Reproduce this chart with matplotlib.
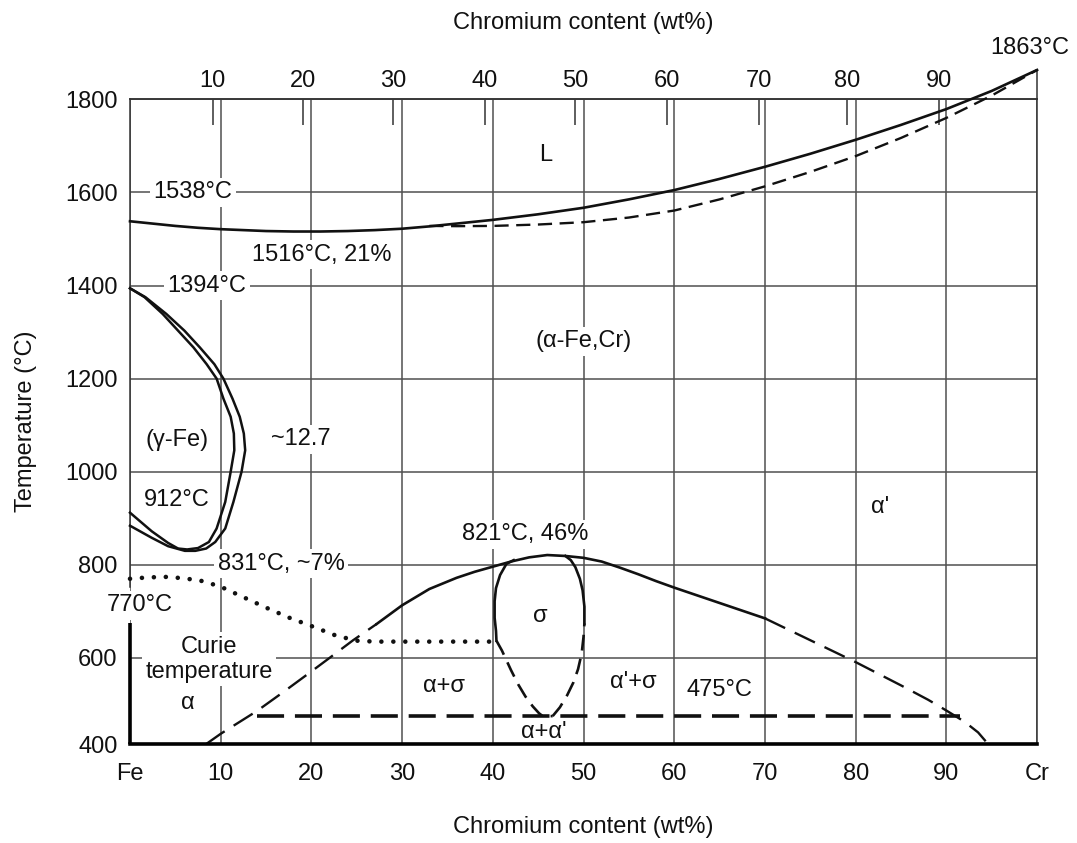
import matplotlib
matplotlib.use('Agg')
import matplotlib.pyplot as plt

plt.rcParams['font.family'] = ['Liberation Sans', 'DejaVu Sans']
plt.rcParams['font.size'] = 17
plt.rcParams['text.color'] = '#1a1a1a'

# Fe-Cr phase diagram: composition in wt% Cr, temperature in deg C

# liquidus (solid) and solidus (dashed)
liq_cr = [0, 2.5, 5, 7.5, 10, 12.5, 15, 18, 21, 24, 27, 30, 33, 36, 40, 45, 50, 55, 60, 65,
          70, 75, 80, 85, 90, 95, 100]
liq_t = [1538, 1533, 1528, 1524, 1521, 1519, 1517, 1516, 1516, 1517, 1519, 1522, 1527, 1533,
         1541, 1553, 1567, 1585, 1605, 1629, 1655, 1683, 1713, 1745, 1779, 1818, 1863]
sol_cr = [33, 36, 40, 45, 50, 55, 60, 65, 70, 75, 80, 85, 90, 95, 100]
sol_t = [1528, 1527.5, 1528, 1531, 1536, 1546, 1561, 1585, 1613, 1644, 1678, 1717, 1760, 1808, 1863]

# gamma loop: inner boundary ends at 912 C, outer boundary just outside it
gam_in_cr = [0, 1.6, 3.6, 5.3, 7.0, 8.45, 9.55, 10.3, 11.1, 11.45, 11.5, 11.1, 10.5, 9.55,
             8.7, 7.5, 6.3, 5.3, 4.2, 2.4, 0]
gam_in_t = [1394, 1375, 1339, 1303, 1267, 1231, 1200, 1157, 1118, 1082, 1046, 1000, 935, 878,
            849, 836, 833, 835, 847, 872, 912]
gam_out_cr = [0, 1.7, 4.0, 6.0, 7.7, 9.3, 10.3, 11.3, 12.1, 12.55, 12.7, 12.3, 11.4, 10.5,
              9.4, 8.4, 7.2, 6.05, 4.2, 2.4, 0]
gam_out_t = [1394, 1375, 1339, 1303, 1267, 1231, 1200, 1157, 1118, 1082, 1046, 1000, 935, 878,
             849, 835, 830, 830, 840, 858, 884]

# Curie temperature
curie_cr = [0, 2, 4, 6, 8, 10, 12, 15, 17.6, 20.2, 22.7, 25, 27, 40]
curie_t = [770, 773, 774, 771, 765, 753, 735, 708, 686, 667, 648, 637, 635, 635]

# alpha / (alpha + sigma) boundary: dashed left end, solid dome, dashed right end
a_lo_cr = [8.4, 10, 14, 17, 20, 22, 24.6, 27.2]
a_lo_t = [415, 437, 486, 528, 571, 600, 638, 673]
a_dome_cr = [27.2, 30, 33, 36, 38, 40, 42, 44, 46, 48, 50, 52, 54, 56, 58, 60, 65, 70]
a_dome_t = [673, 713, 748, 772, 785, 796, 807, 816, 821, 819, 815, 807, 794, 780, 765, 751, 718, 685]
a_hi_cr = [70, 75, 80, 85, 88, 90, 92, 93.5, 94.6]
a_hi_t = [685, 638, 591, 541, 510, 487, 463, 440, 415]

# sigma phase field
sig_l_cr = [42.3, 41.5, 40.8, 40.35, 40.2, 40.2, 40.35, 40.4]
sig_l_t = [810, 802, 778, 750, 722, 686, 658, 637]
sig_ld_cr = [40.4, 41.0, 42.0, 42.8, 43.6, 44.4, 45.1, 45.5, 46.6]
sig_ld_t = [637, 616, 574, 543, 517, 496, 481, 475, 475]
sig_rd_cr = [46.6, 47.4, 48.2, 48.9, 49.4, 49.8, 50.0, 50.1]
sig_rd_t = [475, 494, 520, 548, 576, 610, 645, 674]
sig_r_cr = [50.1, 50.1, 49.9, 49.6, 49.1, 48.6, 48.0]
sig_r_t = [674, 710, 745, 770, 795, 810, 819]

# 475 C embrittlement line
emb_cr = [14, 91.5]
emb_t = [475, 475]

# Fe-side edge: thin above the Curie point, heavy through the alpha field
fe_thin = [752, 1800]
fe_thick = [415, 674]

bottom_ticks = [0, 10, 20, 30, 40, 50, 60, 70, 80, 90, 100]
bottom_labels = ['Fe', '10', '20', '30', '40', '50', '60', '70', '80', '90', 'Cr']
top_ticks = [9.1, 19.1, 29.0, 39.1, 49.1, 59.2, 69.3, 79.1, 89.2]
top_labels = ['10', '20', '30', '40', '50', '60', '70', '80', '90']
temp_ticks = [415, 600, 800, 1000, 1200, 1400, 1600, 1800]
temp_labels = ['400', '600', '800', '1000', '1200', '1400', '1600', '1800']

INK = '#111111'
GRID = '#505050'

fig = plt.figure(figsize=(10.77, 8.43), dpi=100)
ax = fig.add_axes([0.1207, 0.1174, 0.8422, 0.7648])
ax.set_xlim(0, 100)
ax.set_ylim(415, 1800)

ax.set_xticks(bottom_ticks, bottom_labels)
ax.set_yticks(temp_ticks, temp_labels)
ax.tick_params(axis='x', length=0, pad=14, labelcolor=INK)
ax.tick_params(axis='y', length=0, pad=9, labelcolor=INK)
ax.set_axisbelow(True)
ax.grid(True, color=GRID, lw=1.1)

for side in ['top', 'right']:
    ax.spines[side].set_color('#333333')
    ax.spines[side].set_linewidth(1.1)
ax.spines['left'].set_visible(False)
ax.spines['bottom'].set_color('black')
ax.spines['bottom'].set_linewidth(2.6)
ax.spines['bottom'].set_zorder(5)

ax.plot([0, 0], fe_thin, color='#333333', lw=1.1, zorder=2, clip_on=False)
ax.plot([0, 0], fe_thick, color='black', lw=2.6, zorder=5, clip_on=False, solid_capstyle='butt')
ax.plot([100, 100], [1800, 1863], color='#333333', lw=1.1, clip_on=False)

sec = ax.secondary_xaxis('top')
sec.set_xticks(top_ticks, top_labels)
sec.tick_params(direction='in', length=19, width=1.1, color='#333333', pad=5, labelcolor=INK)
sec.spines['top'].set_color('#333333')
sec.spines['top'].set_linewidth(1.1)
sec.set_xlabel('Chromium content (wt%)', labelpad=30, color=INK)

ax.set_xlabel('Chromium content (wt%)', labelpad=22, color=INK)
ax.set_ylabel('Temperature (\u00b0C)', labelpad=20, color=INK)

line = dict(color=INK, zorder=4, clip_on=False)
ax.plot(liq_cr, liq_t, lw=1.9, **line)
ax.plot(sol_cr, sol_t, lw=1.7, ls=(0, (6, 3.2)), **line)
ax.plot(gam_in_cr, gam_in_t, lw=1.8, **line)
ax.plot(gam_out_cr, gam_out_t, lw=1.8, **line)
ax.plot(curie_cr, curie_t, lw=3.3, ls=(0, (0.01, 2.6)), dash_capstyle='round', **line)
ax.plot(a_lo_cr, a_lo_t, lw=1.7, ls=(0, (9.5, 4.5)), **line)
ax.plot(a_dome_cr, a_dome_t, lw=1.9, **line)
ax.plot(a_hi_cr, a_hi_t, lw=1.7, ls=(0, (9.5, 4.5)), **line)
ax.plot(sig_l_cr, sig_l_t, lw=1.9, **line)
ax.plot(sig_ld_cr, sig_ld_t, lw=1.9, ls=(0, (6, 3.2)), **line)
ax.plot(sig_rd_cr, sig_rd_t, lw=1.9, ls=(0, (6, 3.2)), **line)
ax.plot(sig_r_cr, sig_r_t, lw=1.9, **line)
ax.plot(emb_cr, emb_t, lw=2.6, ls=(0, (7.5, 3)), **line)

box = dict(facecolor='white', edgecolor='none', pad=2.5)


def label(x, y, s, boxed=True, **kw):
    ax.text(x, y, s, ha='center', va='center', color=INK, zorder=3,
            bbox=box if boxed else None, **kw)


label(45.8, 1680, 'L')
label(6.9, 1600, '1538\u00b0C')
label(21.1, 1466, '1516\u00b0C, 21%')
label(8.5, 1400, '1394\u00b0C')
label(50.0, 1280, '(\u03b1-Fe,Cr)')
label(5.15, 1068, '(\u03b3-Fe)')
label(18.8, 1070, '~12.7')
label(5.15, 940, '912\u00b0C')
label(16.7, 802, '831\u00b0C, ~7%')
label(1.1, 713, '770\u00b0C')
label(8.7, 597, 'Curie\ntemperature', linespacing=1.15)
label(6.4, 504, '\u03b1', boxed=False)
label(34.6, 539, '\u03b1+\u03c3', boxed=False)
label(43.6, 866, '821\u00b0C, 46%')
label(45.2, 690, '\u03c3', boxed=False)
label(55.5, 549, "\u03b1'+\u03c3", boxed=False)
label(65.0, 531, '475\u00b0C', boxed=False)
label(45.6, 441, "\u03b1+\u03b1'", boxed=False)
label(82.7, 925, "\u03b1'", boxed=False)
ax.text(99.2, 1910, '1863\u00b0C', ha='center', va='center', color=INK, clip_on=False)

fig.savefig('out.png', dpi=100)
